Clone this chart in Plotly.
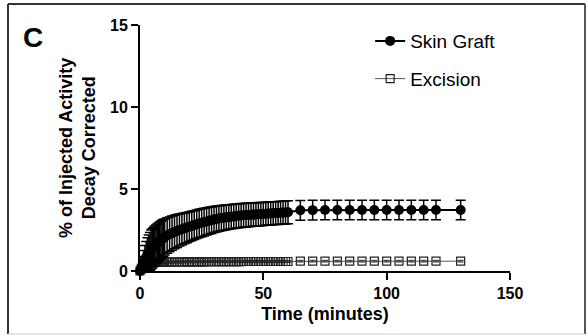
import plotly.graph_objects as go

time_min = [0, 0.5, 1, 1.5, 2, 2.5, 3, 3.5, 4, 4.5, 5, 5.5, 6, 6.5, 7, 7.5, 8, 8.5, 9, 9.5, 10,
            11, 12, 13, 14, 15, 16, 17, 18, 19, 20,
            21, 22, 23, 24, 25, 26, 27, 28, 29, 30,
            31, 32, 33, 34, 35, 36, 37, 38, 39, 40,
            41, 42, 43, 44, 45, 46, 47, 48, 49, 50,
            51, 52, 53, 54, 55, 56, 57, 58, 59, 60,
            65, 70, 75, 80, 85, 90, 95, 100, 105, 110, 115, 120, 130]

skin_graft = [0, 0.2, 0.38, 0.55, 0.7, 0.85, 0.98, 1.1, 1.2, 1.3, 1.38, 1.47, 1.55, 1.63, 1.7, 1.77, 1.84, 1.9, 1.96, 2.02, 2.07,
              2.16, 2.24, 2.31, 2.38, 2.44, 2.5, 2.55, 2.6, 2.65, 2.7,
              2.75, 2.8, 2.85, 2.9, 2.94, 2.98, 3.02, 3.06, 3.1, 3.14,
              3.17, 3.2, 3.23, 3.25, 3.27, 3.29, 3.31, 3.33, 3.35, 3.37,
              3.38, 3.4, 3.41, 3.42, 3.43, 3.44, 3.45, 3.46, 3.47, 3.48,
              3.49, 3.5, 3.51, 3.52, 3.53, 3.54, 3.55, 3.56, 3.57, 3.58,
              3.7, 3.71, 3.72, 3.72, 3.72, 3.72, 3.72, 3.72, 3.72, 3.72, 3.72, 3.72, 3.72]

skin_graft_err = [0.05, 0.3, 0.5, 0.7, 0.85, 0.95, 1.05, 1.1, 1.15, 1.2, 1.2, 1.2, 1.2, 1.18, 1.17, 1.16, 1.15, 1.14, 1.13, 1.12, 1.1,
                  1.08, 1.06, 1.04, 1.02, 1.0, 0.98, 0.96, 0.94, 0.92, 0.9,
                  0.89, 0.88, 0.87, 0.86, 0.85, 0.84, 0.83, 0.82, 0.81, 0.8,
                  0.79, 0.78, 0.77, 0.76, 0.75, 0.75, 0.74, 0.74, 0.73, 0.73,
                  0.73, 0.72, 0.72, 0.72, 0.72, 0.71, 0.71, 0.71, 0.71, 0.7,
                  0.7, 0.7, 0.7, 0.7, 0.7, 0.7, 0.7, 0.7, 0.7, 0.7,
                  0.6, 0.6, 0.6, 0.6, 0.6, 0.6, 0.6, 0.6, 0.6, 0.6, 0.6, 0.6, 0.6]

excision = [0, 0.12, 0.22, 0.3, 0.36, 0.41, 0.44, 0.47, 0.49, 0.5, 0.51, 0.51, 0.52, 0.52, 0.52, 0.53, 0.53, 0.53, 0.53, 0.54, 0.54,
            0.54, 0.54, 0.55, 0.55, 0.55, 0.55, 0.55, 0.56, 0.56, 0.56,
            0.56, 0.56, 0.56, 0.56, 0.56, 0.56, 0.57, 0.57, 0.57, 0.57,
            0.57, 0.57, 0.57, 0.57, 0.57, 0.57, 0.57, 0.57, 0.57, 0.57,
            0.57, 0.58, 0.58, 0.58, 0.58, 0.58, 0.58, 0.58, 0.58, 0.58,
            0.58, 0.58, 0.58, 0.58, 0.58, 0.58, 0.58, 0.58, 0.58, 0.58,
            0.6, 0.6, 0.6, 0.6, 0.6, 0.6, 0.6, 0.6, 0.6, 0.6, 0.6, 0.6, 0.6]

excision_err = [0.02, 0.03, 0.04, 0.05, 0.05, 0.05, 0.05, 0.05, 0.05, 0.05, 0.05, 0.05, 0.05, 0.05, 0.05, 0.05, 0.05, 0.05, 0.05, 0.05, 0.05,
                0.05, 0.05, 0.05, 0.05, 0.05, 0.05, 0.05, 0.05, 0.05, 0.05,
                0.05, 0.05, 0.05, 0.05, 0.05, 0.05, 0.05, 0.05, 0.05, 0.05,
                0.05, 0.05, 0.05, 0.05, 0.05, 0.05, 0.05, 0.05, 0.05, 0.05,
                0.05, 0.05, 0.05, 0.05, 0.05, 0.05, 0.05, 0.05, 0.05, 0.05,
                0.05, 0.05, 0.05, 0.05, 0.05, 0.05, 0.05, 0.05, 0.05, 0.05,
                0.05, 0.05, 0.05, 0.05, 0.05, 0.05, 0.05, 0.05, 0.05, 0.05, 0.05, 0.05, 0.05]

x_ticks = [0, 50, 100, 150]
y_ticks = [0, 5, 10, 15]

FONT = "Liberation Sans, Arial, sans-serif"

fig = go.Figure()

fig.add_trace(go.Scatter(
    x=time_min, y=excision, name="Excision", mode="lines+markers",
    line=dict(color="#555555", width=1),
    marker=dict(symbol="square-open", size=8, color="#222222", line=dict(width=1.2)),
    error_y=dict(type="data", array=excision_err, color="#222222", thickness=1, width=3),
    cliponaxis=False, legendrank=2, legendgroup="b",
))

fig.add_trace(go.Scatter(
    x=time_min, y=skin_graft, name="Skin Graft", mode="lines+markers",
    line=dict(color="black", width=2),
    marker=dict(symbol="circle", size=10, color="black"),
    error_y=dict(type="data", array=skin_graft_err, color="black", thickness=1.5, width=5),
    cliponaxis=False, legendrank=1, legendgroup="a",
))

fig.update_layout(
    width=588, height=336,
    margin=dict(l=140, r=78, t=25, b=65),
    paper_bgcolor="white", plot_bgcolor="white",
    font=dict(family=FONT, color="black"),
    showlegend=True,
    legend=dict(x=0.622, y=1.012, xanchor="left", yanchor="top",
                font=dict(size=19, family=FONT, color="black"),
                bgcolor="rgba(0,0,0,0)", tracegroupgap=10,
                itemwidth=30),
    xaxis=dict(range=[0, 150], tickvals=x_ticks, showline=True, linewidth=2, linecolor="black",
               ticks="outside", ticklen=7, tickwidth=2, tickcolor="black",
               tickfont=dict(size=16, family=FONT, weight="bold"),
               showgrid=False, zeroline=False,
               title=dict(text="<b>Time (minutes)</b>", font=dict(size=18, family=FONT), standoff=6)),
    yaxis=dict(range=[0, 15], tickvals=y_ticks, showline=True, linewidth=2, linecolor="black",
               ticks="outside", ticklen=7, tickwidth=2, tickcolor="black",
               tickfont=dict(size=16, family=FONT, weight="bold"),
               showgrid=False, zeroline=False),
)

# y-axis title as annotation for exact placement
fig.add_annotation(text="<b>% of Injected Activity<br>Decay Corrected</b>",
                   xref="paper", yref="paper", x=(77 - 140) / 370, y=0.5,
                   xanchor="center", yanchor="middle", textangle=-90, showarrow=False,
                   font=dict(size=18, family=FONT, color="black"))

# panel letter
fig.add_annotation(text="<b>C</b>", xref="paper", yref="paper",
                   x=(33 - 140) / 370, y=(271 - 37) / 246, xanchor="center", yanchor="middle",
                   showarrow=False, font=dict(size=28, family=FONT, color="black"))

# panel frame
def px_x(p):
    return (p - 140) / 370

def px_y(p):
    return (271 - p) / 246

fig.add_shape(type="line", xref="paper", yref="paper", x0=px_x(8), x1=px_x(8), y0=px_y(4), y1=px_y(334),
              line=dict(color="#333333", width=2))
fig.add_shape(type="line", xref="paper", yref="paper", x0=px_x(8), x1=px_x(585), y0=px_y(4), y1=px_y(4),
              line=dict(color="#333333", width=2))
fig.add_shape(type="line", xref="paper", yref="paper", x0=px_x(585), x1=px_x(585), y0=px_y(4), y1=px_y(334),
              line=dict(color="#555555", width=2))
fig.add_shape(type="line", xref="paper", yref="paper", x0=px_x(8), x1=px_x(585), y0=px_y(334), y1=px_y(334),
              line=dict(color="#cccccc", width=1))

fig.write_html("out.html")
